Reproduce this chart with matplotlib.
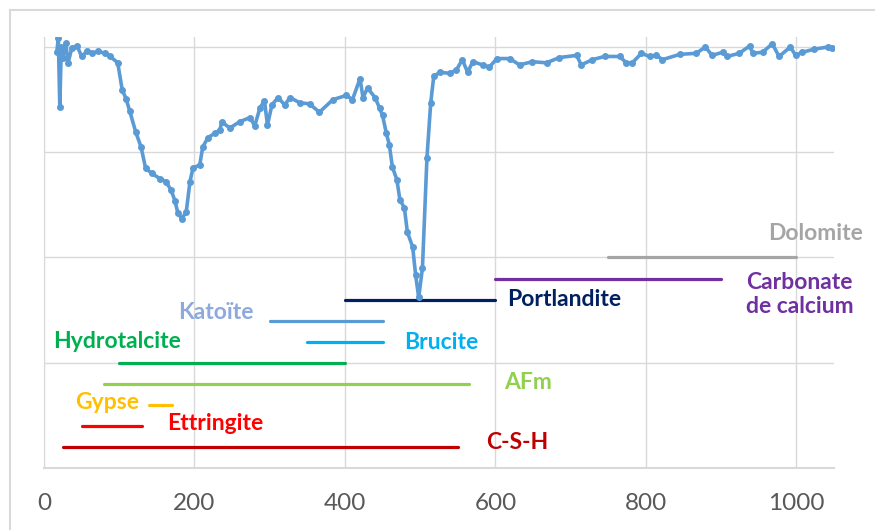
import matplotlib
matplotlib.use("Agg")
import matplotlib.pyplot as plt
from matplotlib.lines import Line2D

# DTG curve (temperature in degC, arbitrary units)
temp = [17, 19, 21, 23, 25, 29, 32, 37, 44, 50, 57, 64, 72, 81, 88,
        98, 104, 109, 114, 122, 129, 135, 143, 154, 162, 169, 174, 178,
        183, 189, 194, 198, 207, 211, 218, 227, 234, 236, 247, 260, 274,
        280, 287, 293, 297, 303, 311, 320, 327, 340, 353, 366, 384, 402,
        410, 420, 424, 430, 440, 446, 450, 455, 459, 463, 469, 473, 479,
        483, 490, 494, 498, 503, 509, 514, 518, 526, 539, 548, 556, 563,
        570, 583, 592, 602, 619, 632, 649, 668, 685, 708, 714, 729, 745,
        765, 774, 782, 794, 805, 814, 822, 845, 867, 879, 888, 902, 908,
        924, 938, 942, 955, 968, 977, 992, 999, 1008, 1024, 1042, 1048]
dtg = [3.95, 4.09, 3.43, 4.00, 3.90, 4.04, 3.85, 3.99, 4.01, 3.91, 3.96,
       3.94, 3.96, 3.94, 3.91, 3.85, 3.59, 3.51, 3.39, 3.19, 3.05, 2.85,
       2.80, 2.75, 2.72, 2.64, 2.54, 2.42, 2.37, 2.43, 2.72, 2.85, 2.88,
       3.05, 3.14, 3.18, 3.21, 3.29, 3.23, 3.29, 3.33, 3.25, 3.42, 3.49,
       3.26, 3.45, 3.52, 3.45, 3.52, 3.47, 3.46, 3.38, 3.50, 3.54, 3.50,
       3.70, 3.52, 3.61, 3.52, 3.42, 3.35, 3.18, 3.07, 2.86, 2.74, 2.55,
       2.47, 2.24, 2.10, 1.83, 1.62, 1.90, 2.95, 3.47, 3.72, 3.76, 3.75,
       3.78, 3.88, 3.76, 3.86, 3.83, 3.81, 3.89, 3.89, 3.83, 3.86, 3.85,
       3.90, 3.92, 3.83, 3.88, 3.91, 3.91, 3.85, 3.85, 3.94, 3.91, 3.92,
       3.88, 3.93, 3.94, 4.00, 3.92, 3.95, 3.91, 3.94, 4.01, 3.94, 3.95,
       4.03, 3.91, 4.00, 3.92, 3.95, 3.98, 4.00, 3.99]

# decomposition ranges of each phase
phases = ["Dolomite", "Carbonate\nde calcium", "Portlandite", "Katoïte",
          "Brucite", "Hydrotalcite", "AFm", "Gypse", "Ettringite", "C-S-H"]
t_start = [750, 600, 400, 300, 350, 100, 80, 140, 50, 25]
t_end = [1000, 900, 600, 450, 450, 400, 565, 170, 130, 550]
level = [2.0, 1.8, 1.6, 1.4, 1.2, 1.0, 0.8, 0.6, 0.4, 0.2]

line_colors = ["#A5A5A5", "#7030A0", "#002060", "#5B9BD5", "#00B0F0",
               "#00B050", "#92D050", "#FFC000", "#FF0000", "#C00000"]
label_colors = ["#A5A5A5", "#7030A0", "#002060", "#8EA9DB", "#00B0F0",
                "#00B050", "#92D050", "#FFC000", "#FF0000", "#C00000"]
# label anchor (x, y, horizontal alignment)
label_pos = [(1025, 2.23, "center"), (1004, 1.65, "center"),
             (615, 1.60, "left"), (178, 1.48, "left"), (478, 1.19, "left"),
             (12, 1.20, "left"), (611, 0.81, "left"), (41, 0.62, "left"),
             (163, 0.42, "left"), (587, 0.24, "left")]

plt.rcParams["font.family"] = ["Lato", "DejaVu Sans"]

fig = plt.figure(figsize=(8.75, 5.3), dpi=100)
ax = fig.add_axes([44 / 875, 62 / 530, 790 / 875, 431 / 530])

grid_c = "#D9D9D9"
ax.set_xlim(0, 1050)
ax.set_ylim(0, 4.095)
ax.set_xticks([0, 200, 400, 600, 800, 1000])
ax.set_yticks([1, 2, 3, 4])
ax.set_yticklabels([])
ax.grid(True, color=grid_c, lw=1, zorder=0)
ax.set_axisbelow(True)
ax.tick_params(axis="both", length=0)
ax.tick_params(axis="x", labelsize=17.5, labelcolor="#595959", pad=18)
for s in ["top", "right"]:
    ax.spines[s].set_visible(False)
ax.spines["left"].set_color(grid_c)
ax.spines["bottom"].set_color(grid_c)
ax.spines["bottom"].set_linewidth(1.5)

for i, name in enumerate(phases):
    ax.plot([t_start[i], t_end[i]], [level[i], level[i]],
            color=line_colors[i], lw=2.3, solid_capstyle="round", zorder=2)
    lx, ly, ha = label_pos[i]
    ax.text(lx, ly, name, color=label_colors[i], fontsize=16.5,
            fontweight="bold", ha=ha, va="center", clip_on=False,
            linespacing=1.2)

ax.plot(temp, dtg, color="#5B9BD5", lw=2.6, marker="o", ms=4, zorder=3)

# light frame of the original screenshot
fig.add_artist(Line2D([10 / 875, 10 / 875], [0, 1 - 10 / 530],
                      transform=fig.transFigure, color=grid_c, lw=1.5))
fig.add_artist(Line2D([10 / 875, 1], [1 - 10 / 530, 1 - 10 / 530],
                      transform=fig.transFigure, color=grid_c, lw=1.5))

fig.savefig("out.png", dpi=100)
